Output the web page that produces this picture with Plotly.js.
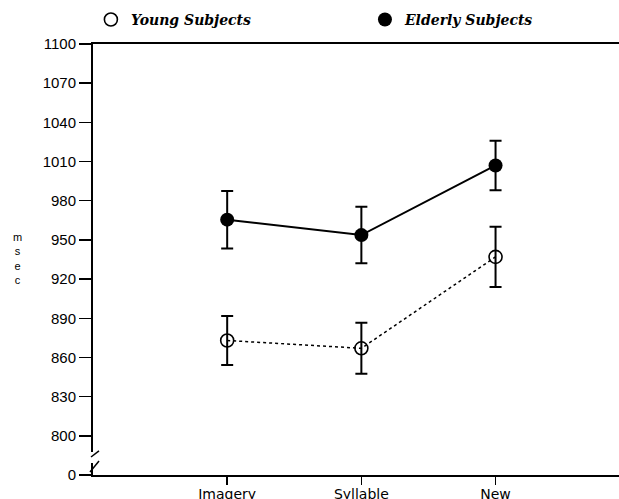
<!DOCTYPE html>
<html>
<head>
<meta charset="utf-8">
<script src="https://cdn.plot.ly/plotly-3.0.1.min.js"></script>
<style>html,body{margin:0;padding:0;background:#fff;}#chart{width:619px;height:499px;}</style>
</head>
<body>
<div id="chart"></div>
<script>
// Data
const conditions = [1, 2, 3];
const conditionLabels = ["Imagery", "Syllable", "New"];
const youngMean = [873, 867, 937];
const youngErr = [18.7, 19.5, 23];
const elderlyMean = [965.5, 953.7, 1007];
const elderlyErr = [22, 21.6, 19];
const yTickVals = [770, 800, 830, 860, 890, 920, 950, 980, 1010, 1040, 1070, 1100];
const yTickText = ["0", "800", "830", "860", "890", "920", "950", "980", "1010", "1040", "1070", "1100"];
const seriesNames = ["Young Subjects", "Elderly Subjects"];
const yTitleLetters = ["m", "s", "e", "c"];

const traces = [
  {
    x: conditions, y: youngMean, type: "scatter", mode: "lines+markers",
    line: {color: "#000", width: 1.5, dash: "dot"},
    marker: {symbol: "circle-open", size: 13, color: "#000", line: {width: 1.6, color: "#000"}},
    error_y: {type: "data", array: youngErr, visible: true, color: "#000", thickness: 2, width: 6},
    showlegend: false, cliponaxis: false
  },
  {
    x: conditions, y: elderlyMean, type: "scatter", mode: "lines+markers",
    line: {color: "#000", width: 2},
    marker: {symbol: "circle", size: 14, color: "#000"},
    error_y: {type: "data", array: elderlyErr, visible: true, color: "#000", thickness: 2, width: 6},
    showlegend: false, cliponaxis: false
  },
  {
    x: [null], y: [null], type: "scatter", mode: "markers", name: seriesNames[0], legend: "legend",
    marker: {symbol: "circle-open", size: 13, color: "#000", line: {width: 1.6, color: "#000"}}
  },
  {
    x: [null], y: [null], type: "scatter", mode: "markers", name: seriesNames[1], legend: "legend2",
    marker: {symbol: "circle", size: 14, color: "#000"}
  }
];

const legendFont = {family: "DejaVu Serif", size: 14, weight: "bold", style: "italic", color: "#000"};

const layout = {
  width: 619, height: 499,
  margin: {l: 93, r: 0, t: 44, b: 24, pad: 0},
  paper_bgcolor: "#fff", plot_bgcolor: "#fff",
  showlegend: true,
  legend: {
    orientation: "h", x: -0.004, xanchor: "left", y: 1.056, yanchor: "middle",
    font: legendFont, bgcolor: "rgba(0,0,0,0)"
  },
  legend2: {
    orientation: "h", x: 0.517, xanchor: "left", y: 1.056, yanchor: "middle",
    font: legendFont, bgcolor: "rgba(0,0,0,0)"
  },
  xaxis: {
    range: [0, 3.92], tickvals: conditions, ticktext: conditionLabels,
    showline: true, linecolor: "#000", linewidth: 2, mirror: true,
    ticks: "outside", ticklen: 8, tickwidth: 1.5, tickcolor: "#000",
    ticklabelstandoff: -3,
    showgrid: false, zeroline: false,
    tickfont: {family: "DejaVu Sans", size: 14, color: "#000"}
  },
  yaxis: {
    range: [770, 1100], tickvals: yTickVals, ticktext: yTickText,
    showline: true, linecolor: "#000", linewidth: 2,
    ticks: "outside", ticklen: 12, tickwidth: 1.5, tickcolor: "#000",
    showgrid: false, zeroline: false,
    tickfont: {family: "Liberation Sans", size: 15, color: "#000"}
  },
  annotations: [{
    text: yTitleLetters.join("<br>"), xref: "paper", yref: "paper",
    x: (17 - 93) / 526, y: (475 - 258) / 431, xanchor: "center", yanchor: "middle",
    showarrow: false, align: "center", font: {family: "Liberation Sans", size: 11, color: "#000"}
  }],
  shapes: [
    {type: "rect", xref: "paper", yref: "y", xsizemode: "pixel", xanchor: 0, x0: -3, x1: 3, y0: 779.2, y1: 787.6,
     fillcolor: "#fff", line: {width: 0}, layer: "above"},
    {type: "line", xref: "paper", yref: "y", xsizemode: "pixel", xanchor: 0, x0: -2, x1: 6, y0: 783.8, y1: 788.4,
     line: {color: "#000", width: 1.5}},
    {type: "line", xref: "paper", yref: "y", xsizemode: "pixel", xanchor: 0, x0: -3, x1: 6, y0: 772.3, y1: 780.7,
     line: {color: "#000", width: 1.5}}
  ]
};

Plotly.newPlot("chart", traces, layout, {displayModeBar: false, staticPlot: true});
</script>
</body>
</html>
